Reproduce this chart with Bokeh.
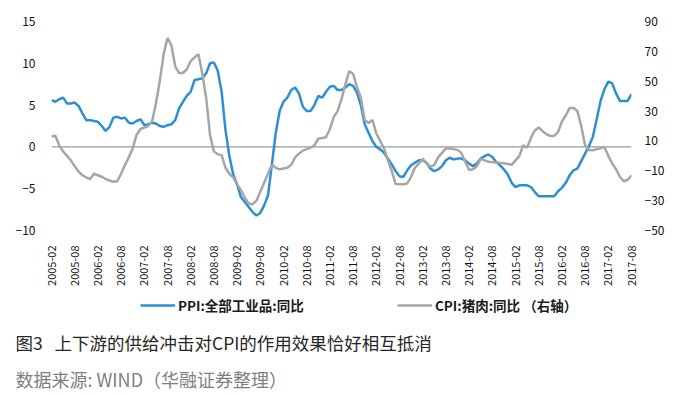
import math
from bokeh.plotting import figure
from bokeh.layouts import column
from bokeh.models import Range1d, LinearAxis, FixedTicker, Span, Legend, LegendItem, Title
from bokeh.embed import file_html
from bokeh.resources import INLINE

# ---- data: monthly, 2005-02 .. 2017-08 ----
years = list(range(2005, 2018))
months = [f"{y}-{m:02d}" for y in years for m in range(1, 13)]
months = months[months.index("2005-02"):months.index("2017-08") + 1]

ppi = [5.6, 5.4, 5.7, 5.9, 5.2, 5.2, 5.3, 4.9, 4.0, 3.2, 3.2,
       3.1, 3.0, 2.5, 1.9, 2.4, 3.5, 3.6, 3.4, 3.5, 2.9, 2.8, 3.1,
       3.3, 2.6, 2.7, 2.9, 2.8, 2.5, 2.4, 2.6, 2.7, 3.2, 4.6, 5.4,
       6.1, 6.6, 8.0, 8.1, 8.2, 8.8, 10.0, 10.1, 9.1, 6.6, 2.0, -1.1,
       -3.3, -4.5, -6.0, -6.6, -7.2, -7.8, -8.2, -7.9, -7.0, -5.8, -2.1, 1.7,
       4.3, 5.4, 5.9, 6.8, 7.1, 6.4, 4.8, 4.3, 4.3, 5.0, 6.1, 5.9,
       6.6, 7.2, 7.3, 6.8, 6.8, 7.1, 7.5, 7.3, 6.5, 5.0, 2.7, 1.7,
       0.7, 0.0, -0.3, -0.7, -1.4, -2.1, -2.9, -3.5, -3.6, -2.8, -2.2, -1.9,
       -1.6, -1.6, -1.9, -2.6, -2.9, -2.7, -2.3, -1.6, -1.3, -1.5, -1.4, -1.4,
       -1.6, -2.0, -2.3, -2.0, -1.4, -1.1, -0.9, -1.2, -1.8, -2.2, -2.7, -3.3,
       -4.3, -4.8, -4.6, -4.6, -4.6, -4.8, -5.4, -5.9, -5.9, -5.9, -5.9, -5.9,
       -5.3, -4.9, -4.3, -3.4, -2.8, -2.6, -1.7, -0.8, 0.1, 1.2, 3.3, 5.5,
       6.9, 7.8, 7.6, 6.4, 5.5, 5.5, 5.5, 6.3]

pork = [13, 13.5, 7, 3, 0, -3, -7, -10.5, -13, -14.5, -15.5,
        -12, -13, -14, -15.5, -16.5, -17.3, -17, -12, -6, -1, 5, 14,
        18, 19, 20, 23, 35, 50, 68, 79, 74, 60, 55.5, 55.5,
        58, 63.5, 66, 68, 55, 39, 14, 3, 1, 0.5, -8, -12,
        -14.5, -19, -23, -28, -32, -32.5, -30, -24, -18, -12, -6, -8,
        -9, -8.5, -8, -6, -1, 1.5, 3.5, 4.5, 5.5, 7, 11.5, 12,
        12.5, 18, 26, 30, 38, 48, 56.7, 55, 46, 39, 24, 22,
        24, 15, 10, 5, -3, -10, -18.9, -19, -19, -18.5, -14, -8,
        -5, -2, -5, -7.3, -6, -1, 2, 5, 5, 4.5, 4, 2,
        -4, -9.5, -9, -7, -2, -3, -4, -4.2, -4.4, -4.7, -5, -5.5,
        -6, -3, 0, 7, 5.5, 12, 17, 19, 16.5, 14.5, 13.3, 13.3,
        16, 23, 27, 32, 32, 30, 20, 7, 4, 3.8, 4.5, 5,
        6, 0, -5, -9, -14, -17, -16, -13]

tick_labels = ["2005-02", "2005-08", "2006-02", "2006-08", "2007-02", "2007-08",
               "2008-02", "2008-08", "2009-02", "2009-08", "2010-02", "2010-08",
               "2011-02", "2011-08", "2012-02", "2012-08", "2013-02", "2013-08",
               "2014-02", "2014-08", "2015-02", "2015-08", "2016-02", "2016-08",
               "2017-02", "2017-08"]
left_ticks = [-10, -5, 0, 5, 10, 15]
right_ticks = [-50, -30, -10, 10, 30, 50, 70, 90]

ppi_name = "PPI:全部工业品:同比"
pork_name = "CPI:猪肉:同比 （右轴）"
caption = "图3\u00a0\u00a0\u00a0上下游的供给冲击对CPI的作用效果恰好相互抵消"
source = "数据来源: WIND（华融证券整理）"

BLUE = "#2C8FD3"
GRAY = "#A6A6A6"
FONT = "Noto Sans CJK SC"
W = 677
FRAME_L = 51

x = list(range(len(months)))
tick_pos = [months.index(t) for t in tick_labels]

# ---------------- main chart ----------------
p = figure(frame_width=580, frame_height=209,
           min_border_left=FRAME_L, min_border_right=W - FRAME_L - 580,
           min_border_top=21, min_border_bottom=62,
           x_range=Range1d(0, len(months) - 1), y_range=Range1d(-10, 15),
           output_backend="svg", toolbar_location=None)
p.extra_y_ranges = {"right": Range1d(-50, 90)}
p.title.visible = False
p.outline_line_color = None
p.xgrid.visible = False
p.ygrid.visible = False

p.add_layout(Span(location=0, dimension="width", line_color="#808080",
                  line_width=1, level="underlay"))

r_ppi = p.line(x, ppi, line_color=BLUE, line_width=2.5)
r_pork = p.line(x, pork, y_range_name="right", line_color=GRAY, line_width=2.5)

def style_axis(ax, standoff, size):
    ax.axis_line_color = None
    ax.major_tick_line_color = None
    ax.minor_tick_line_color = None
    ax.major_tick_out = 0
    ax.major_tick_in = 0
    ax.major_label_standoff = standoff
    ax.major_label_text_font = FONT
    ax.major_label_text_font_size = size
    ax.major_label_text_color = "#111111"

xa = p.xaxis[0]
xa.ticker = FixedTicker(ticks=tick_pos)
xa.major_label_overrides = {pos: lab for pos, lab in zip(tick_pos, tick_labels)}
xa.major_label_orientation = math.pi / 2
style_axis(xa, 15, "11px")

ya = p.yaxis[0]
ya.ticker = FixedTicker(ticks=left_ticks)
style_axis(ya, 16, "12px")

ra = LinearAxis(y_range_name="right", ticker=FixedTicker(ticks=right_ticks))
style_axis(ra, 13, "12px")
p.add_layout(ra, "right")

# ---------------- legend strip + captions ----------------
q = figure(frame_width=580, frame_height=28,
           min_border_left=FRAME_L, min_border_right=W - FRAME_L - 580,
           min_border_top=0, min_border_bottom=0,
           x_axis_location=None, y_axis_location=None,
           x_range=Range1d(0, 1), y_range=Range1d(0, 1),
           output_backend="svg", toolbar_location=None)
q.title.visible = False
q.xgrid.visible = False
q.ygrid.visible = False
q.outline_line_color = None

# legend keys (no visible data in this strip)
nan = float("nan")
k_ppi = q.line([0, 1], [nan, nan], line_color=BLUE, line_width=2.5)
k_pork = q.line([0, 1], [nan, nan], line_color=GRAY, line_width=2.5)

def make_legend(item, loc):
    lg = Legend(items=[item], location=loc, orientation="horizontal",
                border_line_color=None, background_fill_alpha=0,
                padding=0, margin=0, glyph_width=35, glyph_height=14,
                label_standoff=3, label_text_font=FONT,
                label_text_font_size="13.5px", label_text_font_style="bold",
                label_text_color="#1a1a1a")
    q.add_layout(lg, "center")

make_legend(LegendItem(label=ppi_name, renderers=[k_ppi]), (140 - FRAME_L, 5))
make_legend(LegendItem(label=pork_name, renderers=[k_pork]), (397 - FRAME_L, 5))

q.add_layout(Title(text=caption, align="left", offset=15 - FRAME_L,
                   vertical_align="bottom", standoff=14,
                   text_font=FONT, text_font_size="17.5px",
                   text_font_style="normal", text_color="#262626"), "below")
q.add_layout(Title(text=source, align="left", offset=15 - FRAME_L,
                   vertical_align="top", standoff=8,
                   text_font=FONT, text_font_size="18px",
                   text_font_style="normal", text_color="#7f7f7f"), "below")

layout = column(p, q, spacing=0)
open("out.html", "w").write(file_html(layout, INLINE))
